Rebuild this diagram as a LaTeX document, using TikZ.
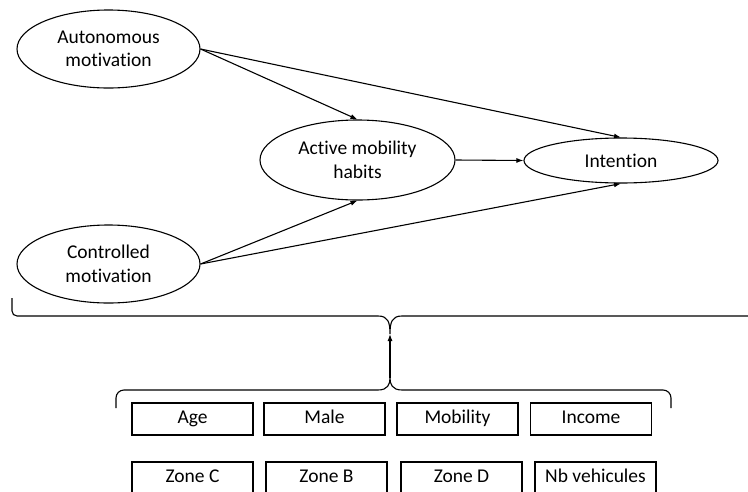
\documentclass[tikz,border=0pt]{standalone}
\usepackage{fontspec}
\setmainfont{Carlito}[RawFeature={-liga}]
\usetikzlibrary{shapes.geometric,arrows.meta}
\begin{document}
\begin{tikzpicture}[x=1pt,y=-1pt,
  every node/.style={font=\fontsize{19.5}{23.5}\selectfont, text=black},
  latent/.style={draw, ellipse, line width=1.1pt, inner sep=0pt, align=center},
  obs/.style={draw, rectangle, line width=1.1pt, inner sep=0pt, minimum width=121pt, minimum height=32pt, text height=13pt, text depth=4pt},
  link/.style={line width=1.1pt, -{Latex[length=7pt,width=5pt]}},
  brace/.style={line width=1.1pt}
]
\useasboundingbox (0,0) rectangle (748,491);
\node[latent, minimum width=183pt, minimum height=78pt] (auto) at (108.5,49) {Autonomous\\motivation};
\node[latent, minimum width=183pt, minimum height=78pt] (ctrl) at (108.5,264) {Controlled\\motivation};
\node[latent, minimum width=195pt, minimum height=80pt] (habit) at (357.5,160) {Active mobility\\habits};
\node[latent, minimum width=194pt, minimum height=45pt] (int) at (621,160.5) {Intention};

\draw[link] (auto.east) -- (habit.north);
\draw[link] (auto.east) -- (int.north);
\draw[link] (habit.east) -- (int.west);
\draw[link] (ctrl.east) -- (habit.south);
\draw[link] (ctrl.east) -- (int.south);

% upper brace
\coordinate (ucusp) at (390,334);
\draw[brace] (12,298) -- (12,311) arc[start angle=180, end angle=90, radius=5] -- (378,316)
  .. controls (388,316) and (390,322) .. (ucusp)
  .. controls (390,322) and (392,316) .. (402,316) -- (760,316);
% lower brace
\coordinate (lcusp) at (390,378);
\draw[brace] (116,408) -- (116,398) arc[start angle=180, end angle=270, radius=8] -- (378,390)
  .. controls (388,390) and (390,384) .. (lcusp)
  .. controls (390,384) and (392,390) .. (402,390) -- (663,390)
  arc[start angle=-90, end angle=0, radius=8] -- (671,408);
\draw[link] (lcusp) -- (ucusp);

% observed variables
\node[obs] (age) at (192.5,419) {Age};
\node[obs] (male) at (324.5,419) {Male};
\node[obs] (mob) at (457.5,419) {Mobility};
\node[obs] (inc) at (591,419) {Income};
\node[obs] (zc) at (192.5,478) {Zone C};
\node[obs] (zb) at (326.5,478) {Zone B};
\node[obs] (zd) at (461.5,478) {Zone D};
\node[obs] (nb) at (595.5,478) {Nb vehicules};
\end{tikzpicture}
\end{document}
